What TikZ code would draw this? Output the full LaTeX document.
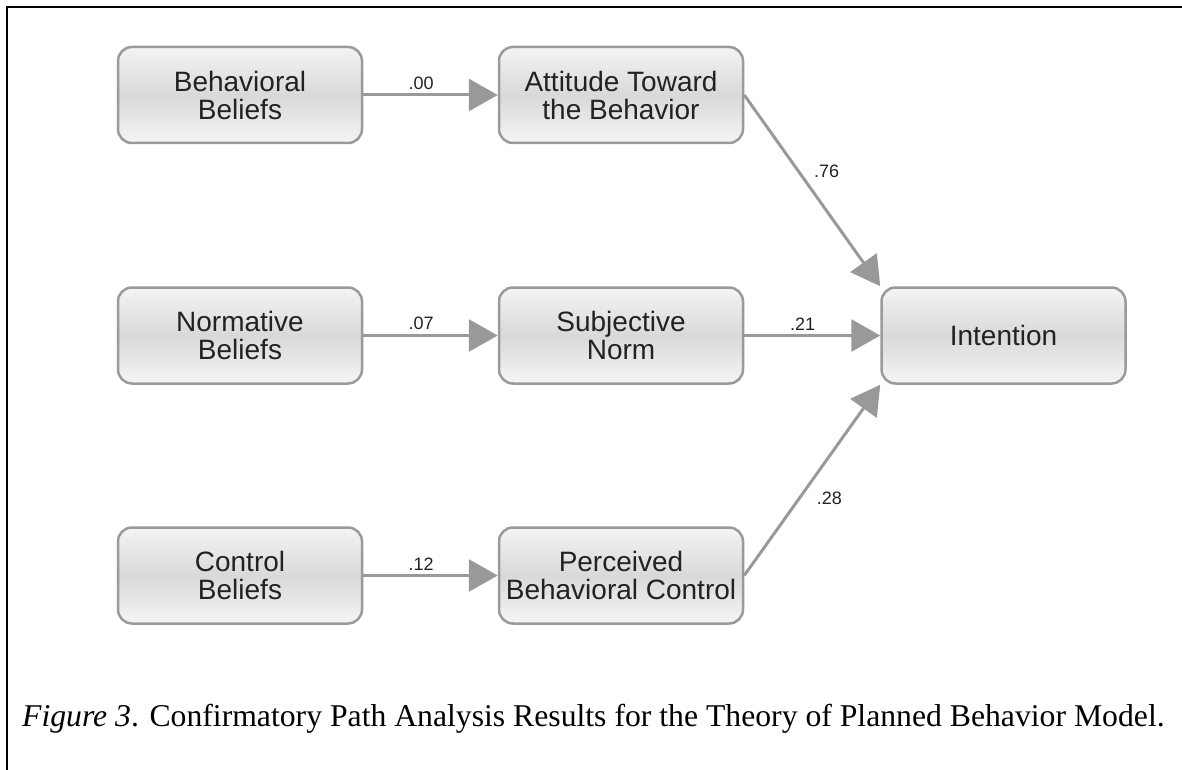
\documentclass[tikz,border=0pt]{standalone}
\usepackage{fontspec}
\setmainfont{Liberation Serif}
\newfontfamily\arialfont{Liberation Sans}
\usetikzlibrary{arrows.meta}
\definecolor{boxtop}{HTML}{F4F4F4}
\definecolor{boxmid}{HTML}{D9D9D9}
\definecolor{boxbot}{HTML}{F5F5F5}
\definecolor{boxline}{HTML}{9A9A9A}
\definecolor{arrowgray}{HTML}{999999}
\definecolor{txt}{HTML}{222222}
\tikzset{
  varbox/.style={rounded corners=14pt, draw=boxline, line width=2.5pt,
    top color=boxtop, bottom color=boxbot, middle color=boxmid,
    minimum width=244pt, minimum height=96pt, inner sep=0pt, align=center,
    text=txt, font=\arialfont\fontsize{28}{28}\selectfont},
  patharrow/.style={draw=arrowgray, line width=3pt, -{Triangle[length=29pt,width=32pt]}},
  coef/.style={inner sep=0pt, text=txt, font=\arialfont\fontsize{18}{20}\selectfont},
  frameline/.style={draw=black, line width=2.5pt}
}
\begin{document}
\begin{tikzpicture}[x=1pt,y=-1pt]
\useasboundingbox (0,0) rectangle (1182,770);
\draw[frameline] (7,770) -- (7,7) -- (1182,7);
\node[varbox] (bb) at (240,95) {Behavioral\\Beliefs};
\node[varbox] (nb) at (240,335.5) {Normative\\Beliefs};
\node[varbox] (cb) at (240,575.5) {Control\\Beliefs};
\node[varbox] (att) at (621,95) {Attitude Toward\\the Behavior};
\node[varbox] (sn) at (621,335.5) {Subjective\\Norm};
\node[varbox] (pbc) at (621,575.5) {Perceived\\Behavioral Control};
\node[varbox] (int) at (1003.5,335.5) {Intention};
\draw[patharrow] (bb) -- node[coef, pos=0.43, above=4pt] {.00} (att);
\draw[patharrow] (nb) -- node[coef, pos=0.43, above=4pt] {.07} (sn);
\draw[patharrow] (cb) -- node[coef, pos=0.43, above=4pt] {.12} (pbc);
\draw[patharrow] (sn) -- node[coef, pos=0.43, above=4pt] {.21} (int);
\draw[patharrow] (att.east) -- node[coef, pos=0.4, anchor=west, xshift=14pt] {.76} (int.north west);
\draw[patharrow] (pbc.east) -- node[coef, pos=0.406, anchor=west, xshift=16pt] {.28} (int.south west);
\node[anchor=base west, inner sep=0pt, font=\fontsize{31.7}{34}\selectfont] (cap) at (22,726)
  {\textit{Figure 3}. Confirmatory Path Analysis Results for the Theory of Planned Behavior Model.};
\end{tikzpicture}
\end{document}
